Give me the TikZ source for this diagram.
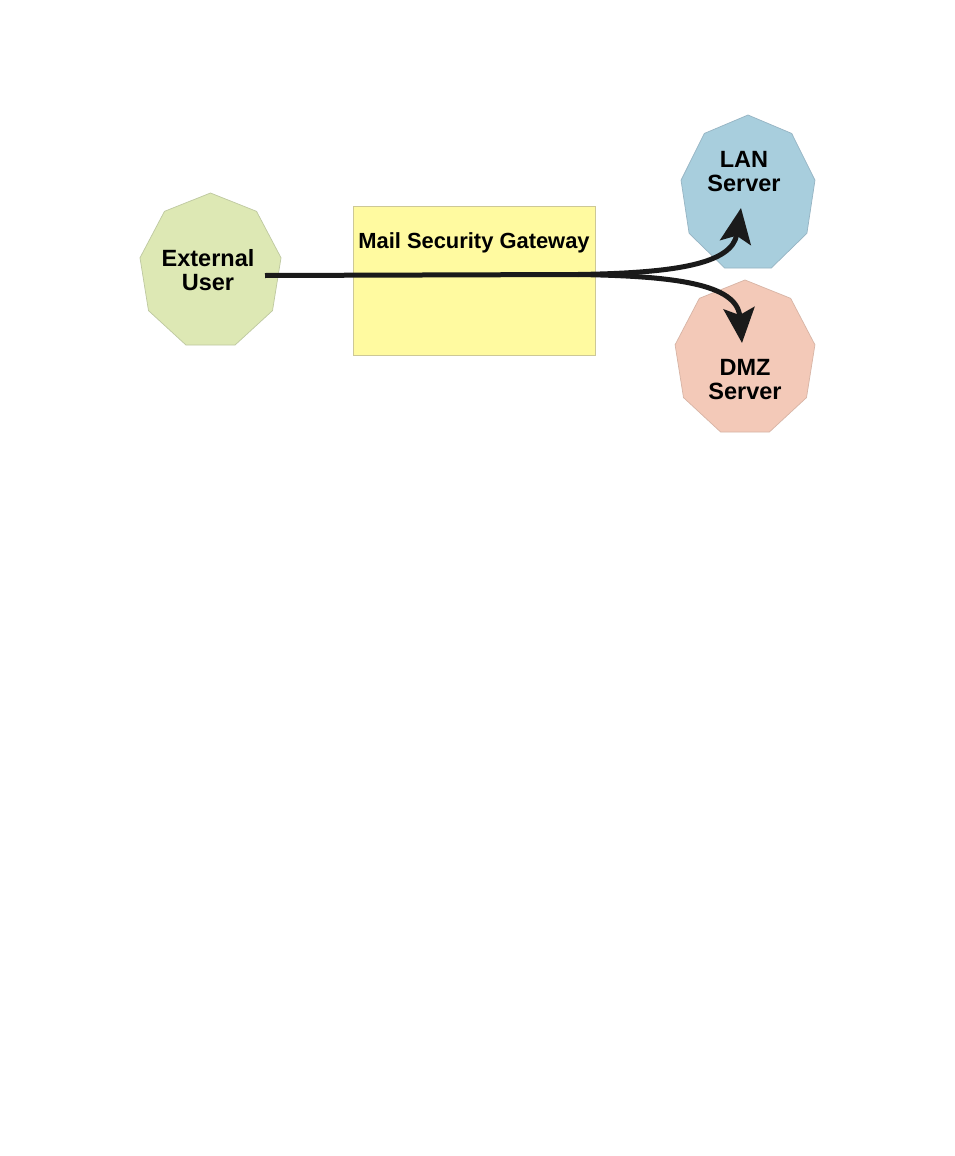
\documentclass[tikz,border=0pt]{standalone}
\usepackage{fontspec}
\setmainfont{Liberation Sans}
\usetikzlibrary{arrows.meta}
\definecolor{gfill}{RGB}{221,232,180}
\definecolor{gline}{RGB}{190,200,160}
\definecolor{bfill}{RGB}{168,206,221}
\definecolor{bline}{RGB}{150,180,195}
\definecolor{pfill}{RGB}{243,201,184}
\definecolor{pline}{RGB}{215,180,165}
\definecolor{yfill}{RGB}{255,250,160}
\definecolor{yline}{RGB}{205,200,150}
\definecolor{flowc}{RGB}{26,26,26}
\tikzset{
  lbl/.style={align=center, inner sep=0pt, font=\bfseries\fontsize{23.5}{24}\selectfont},
  gwlbl/.style={inner sep=0pt, font=\bfseries\fontsize{21.9}{24}\selectfont},
  flow/.style={draw=flowc, line width=5pt, -{Stealth[length=35pt, width=31pt, inset=7pt]}},
  flowline/.style={draw=flowc, line width=5pt}
}
\begin{document}
\begin{tikzpicture}[x=1pt,y=-1pt]
\useasboundingbox (0,0) rectangle (954,1156);
\fill[white] (0,0) rectangle (954,1156);
% polygons
\begin{scope}[shift={(210.5,271.4)}]
\draw[fill=gfill, draw=gline, line width=0.7pt] (270:71.6 and 78.4) \foreach \a in {310,350,...,590}{ -- (\a:71.6 and 78.4)} -- cycle;
\end{scope}
\begin{scope}[shift={(748,193.9)}]
\draw[fill=bfill, draw=bline, line width=0.7pt] (270:68 and 78.9) \foreach \a in {310,350,...,590}{ -- (\a:68 and 78.9)} -- cycle;
\end{scope}
\begin{scope}[shift={(745,358.4)}]
\draw[fill=pfill, draw=pline, line width=0.7pt] (270:71 and 78.4) \foreach \a in {310,350,...,590}{ -- (\a:71 and 78.4)} -- cycle;
\end{scope}
% gateway box
\node[draw=yline, fill=yfill, line width=0.7pt, minimum width=242pt, minimum height=149pt, inner sep=0pt] (gwbox) at (474,280.5) {};
\node[gwlbl] (gw) at (474,243) {Mail Security Gateway};
% labels
\node[lbl] (ext) at (208,270) {External\\User};
\node[lbl] (lan) at (744,172) {LAN\\Server};
\node[lbl] (dmz) at (745,380) {DMZ\\Server};
% connectors
\coordinate (start) at (265,275.5);
\coordinate (split) at (578,274.5);
\coordinate (lantip) at (741,208);
\coordinate (dmztip) at (742,343);
\draw[flowline] (start) -- (split);
\draw[flow] (split) .. controls (675,273) and (732,264) .. (lantip);
\draw[flow] (split) .. controls (675,276) and (737,284) .. (dmztip);
\end{tikzpicture}
\end{document}
